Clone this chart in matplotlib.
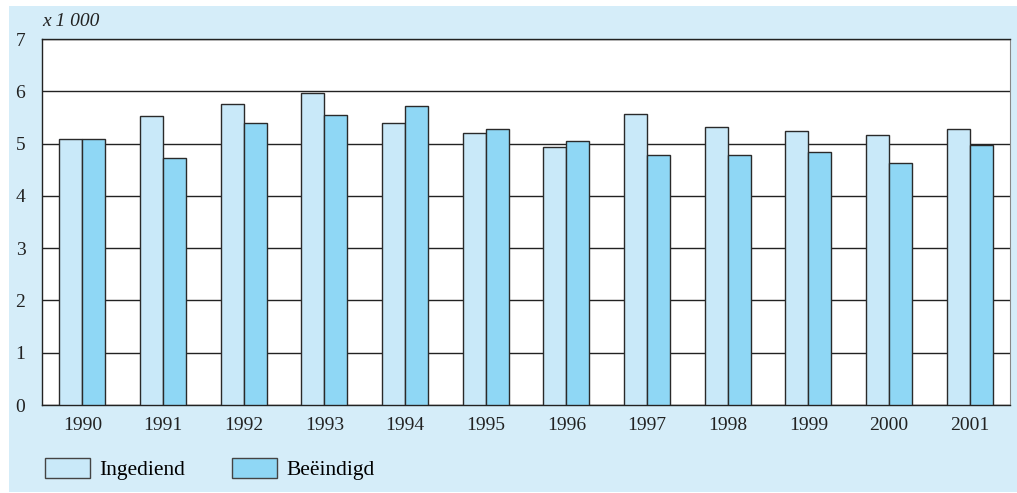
import matplotlib.pyplot as plt
import matplotlib.patches as mpatches
import numpy as np

years = ['1990', '1991', '1992', '1993', '1994', '1995',
         '1996', '1997', '1998', '1999', '2000', '2001']
ingediend = [5.09, 5.53, 5.76, 5.97, 5.39, 5.20, 4.93, 5.56, 5.32, 5.24, 5.16, 5.28]
beeindigd = [5.09, 4.72, 5.39, 5.55, 5.72, 5.28, 5.05, 4.78, 4.78, 4.84, 4.63, 4.97]
labels = ['Ingediend', 'Beëindigd']

light = '#c9e9f9'
dark = '#8fd7f5'
bg = '#d5edf9'

plt.rcParams['font.family'] = ['Liberation Serif', 'DejaVu Serif']

W, H = 1017, 493
fig = plt.figure(figsize=(W / 100, H / 100), dpi=100)
fig.patch.set_facecolor('white')
# light blue panel behind everything
fig.patches.append(mpatches.Rectangle((9 / W, 1 - 492 / H), 1 - 9 / W, (492 - 6) / H,
                                      transform=fig.transFigure, facecolor=bg,
                                      edgecolor='none', zorder=-5))

ax = fig.add_axes([42 / W, 1 - 405 / H, (1010 - 42) / W, (405 - 39) / H])
ax.set_facecolor('white')

x = np.arange(len(years))
w = 0.284
ax.bar(x - w / 2, ingediend, w, color=light, edgecolor='#2a2a2a', linewidth=1, zorder=3)
ax.bar(x + w / 2, beeindigd, w, color=dark, edgecolor='#2a2a2a', linewidth=1, zorder=3)

ax.set_xlim(-0.5, len(years) - 0.5)
ax.set_ylim(0, 7)
ax.set_yticks(range(0, 8))
ax.set_xticks(x)
ax.set_xticklabels(years)
ax.tick_params(length=0, labelsize=14, colors='#222222')
ax.tick_params(axis='x', pad=9)
ax.tick_params(axis='y', pad=12)
ax.yaxis.grid(True, color='#222222', linewidth=1, zorder=1)
ax.set_axisbelow(True)
for s in ['left', 'top', 'bottom']:
    ax.spines[s].set_color('#222222')
    ax.spines[s].set_linewidth(1)
ax.spines['right'].set_color('#888888')

fig.text(42 / W, 1 - 22 / H, 'x 1 000', fontsize=14, style='italic',
         color='#222222', va='center', ha='left')

handles = [mpatches.Patch(facecolor=light, edgecolor='#444444', label=labels[0]),
           mpatches.Patch(facecolor=dark, edgecolor='#444444', label=labels[1])]
fig.legend(handles=handles, loc='center left', bbox_to_anchor=(28 / W, 1 - 469 / H),
           ncol=2, frameon=False, fontsize=15.5, handlelength=2.1, handleheight=1.05,
           columnspacing=2.2, handletextpad=0.4, borderpad=0.3)

fig.savefig('out.png', dpi=100, facecolor=fig.get_facecolor())
